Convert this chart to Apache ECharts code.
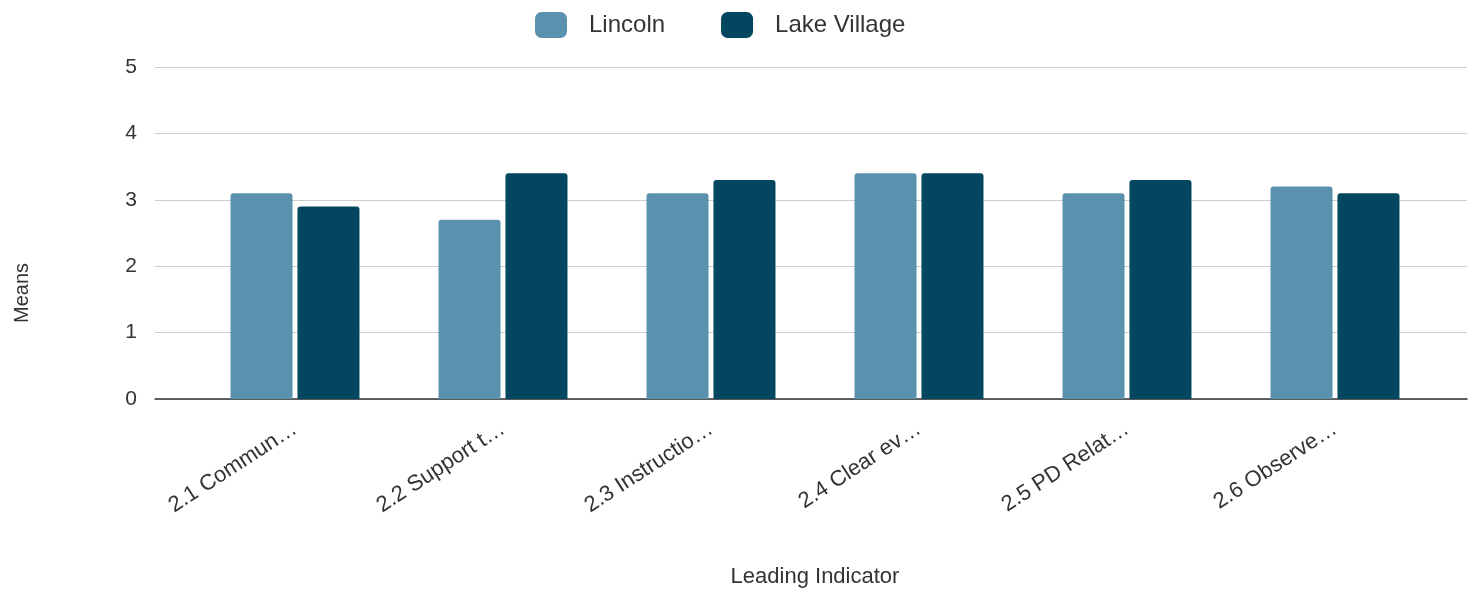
<!DOCTYPE html>
<html>
<head>
<meta charset="utf-8">
<script src="https://cdn.jsdelivr.net/npm/echarts@6/dist/echarts.min.js"></script>
<style>
html,body{margin:0;padding:0;background:#fff;}
#chart{width:1470px;height:589px;}
</style>
</head>
<body>
<div id="chart"></div>
<script>
const categories = ['2.1 Commun…', '2.2 Support t…', '2.3 Instructio…', '2.4 Clear ev…', '2.5 PD Relat…', '2.6 Observe…'];
const lincoln = [3.1, 2.7, 3.1, 3.4, 3.1, 3.2];
const lakeVillage = [2.9, 3.4, 3.3, 3.4, 3.3, 3.1];
const yTicks = [0, 1, 2, 3, 4, 5];

const FONT = '"Liberation Sans", Arial, sans-serif';
const chart = echarts.init(document.getElementById('chart'));
chart.setOption({
  animation: false,
  textStyle: { fontFamily: FONT },
  legend: {
    left: 530, top: 7,
    itemWidth: 32, itemHeight: 26, itemGap: 56,
    icon: 'roundRect',
    textStyle: { fontSize: 24, color: '#333', fontFamily: FONT, padding: [0, 0, 0, 17] },
    data: ['Lincoln', 'Lake Village']
  },
  graphic: [
    { type: 'text', x: 22, y: 293, rotation: Math.PI / 2,
      style: { text: 'Means', fontSize: 20, fill: '#333', fontFamily: FONT, align: 'center', verticalAlign: 'middle' } }
  ],
  grid: [
    { left: 155, right: 3, top: 67, bottom: 190, outerBoundsMode: 'none', containLabel: false },
    { left: 191, right: 31, top: 67, bottom: 190, outerBoundsMode: 'none', containLabel: false }
  ],
  xAxis: [
    { gridIndex: 0, type: 'value', min: 0, max: 1, axisLabel: { show: false }, axisTick: { show: false },
      splitLine: { show: false }, axisLine: { show: true, lineStyle: { color: '#333', width: 1.5 } } },
    { gridIndex: 1, type: 'category', data: categories,
      axisLine: { show: false }, axisTick: { show: false },
      axisLabel: { rotate: 33, fontSize: 22, color: '#333', margin: 28, fontFamily: FONT, hideOverlap: false, interval: 0 },
      name: 'Leading Indicator', nameLocation: 'middle', nameGap: 167,
      nameTextStyle: { fontSize: 22, color: '#333', fontFamily: FONT } }
  ],
  yAxis: [
    { gridIndex: 0, type: 'value', min: 0, max: 5, interval: 1,
      axisLine: { show: false }, axisTick: { show: false },
      axisLabel: { fontSize: 21, color: '#333', margin: 18, fontFamily: FONT,
        formatter: v => yTicks.includes(v) ? String(v) : '' },
      splitLine: { lineStyle: { color: '#cccccc', width: 1.2 } } },
    { gridIndex: 1, type: 'value', min: 0, max: 5, interval: 1, show: false, splitLine: { show: false } }
  ],
  series: [
    { name: 'Lincoln', type: 'bar', xAxisIndex: 1, yAxisIndex: 1, data: lincoln,
      barWidth: 62, barGap: '8%', itemStyle: { color: '#5a91ae', borderRadius: [3, 3, 0, 0] } },
    { name: 'Lake Village', type: 'bar', xAxisIndex: 1, yAxisIndex: 1, data: lakeVillage,
      barWidth: 62, barGap: '8%', itemStyle: { color: '#03465f', borderRadius: [3, 3, 0, 0] } }
  ]
});
</script>
</body>
</html>
